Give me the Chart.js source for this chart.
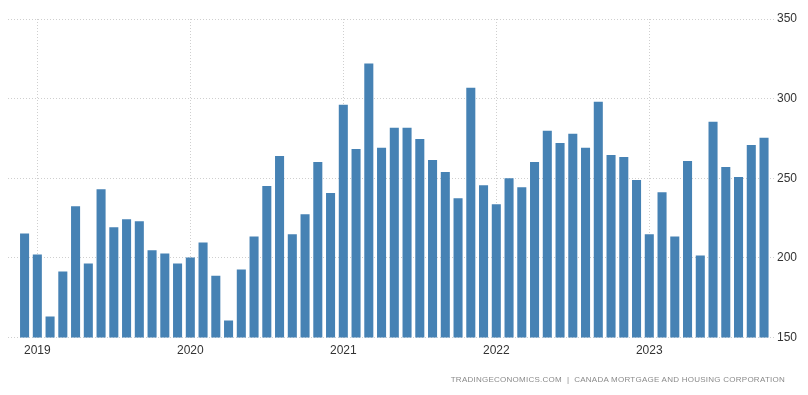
<!DOCTYPE html>
<html>
<head>
<meta charset="utf-8">
<script src="https://cdn.jsdelivr.net/npm/chart.js@4.4.0/dist/chart.umd.min.js"></script>
<style>
    html, body { margin: 0; padding: 0; background: #fff; }
    #wrap { position: relative; width: 808px; height: 395px; }
    #source {
        position: absolute; right: 23px; top: 375px;
        font-family: "Liberation Sans", Arial, sans-serif; font-size: 8px;
        color: #8a8a8a; letter-spacing: 0.25px; white-space: pre;
    }
</style>
</head>
<body>
<div id="wrap">
    <canvas id="startsChart" width="808" height="395"></canvas>
    <div id="source">TRADINGECONOMICS.COM  |  CANADA MORTGAGE AND HOUSING CORPORATION</div>
</div>
<script>
// monthly housing starts, Dec 2018 .. Oct 2023 (thousands, SAAR)
var months = [
    '2018-12',
    '2019-01', '2019-02', '2019-03', '2019-04', '2019-05', '2019-06', '2019-07', '2019-08', '2019-09', '2019-10', '2019-11', '2019-12',
    '2020-01', '2020-02', '2020-03', '2020-04', '2020-05', '2020-06', '2020-07', '2020-08', '2020-09', '2020-10', '2020-11', '2020-12',
    '2021-01', '2021-02', '2021-03', '2021-04', '2021-05', '2021-06', '2021-07', '2021-08', '2021-09', '2021-10', '2021-11', '2021-12',
    '2022-01', '2022-02', '2022-03', '2022-04', '2022-05', '2022-06', '2022-07', '2022-08', '2022-09', '2022-10', '2022-11', '2022-12',
    '2023-01', '2023-02', '2023-03', '2023-04', '2023-05', '2023-06', '2023-07', '2023-08', '2023-09', '2023-10'
];
var starts = [
    215.4,
    202.2, 163.2, 191.5, 232.5, 196.5, 243.2, 219.2, 224.3, 223.0, 204.9, 202.8, 196.5,
    200.3, 209.7, 188.9, 160.7, 192.7, 213.5, 245.1, 264.0, 214.8, 227.4, 260.2, 240.7,
    296.2, 268.4, 322.0, 269.1, 281.7, 281.7, 274.7, 261.5, 253.9, 237.5, 306.9, 245.7,
    233.7, 250.1, 244.4, 260.2, 279.8, 272.2, 277.9, 269.1, 298.1, 264.6, 263.4, 248.9,
    214.8, 241.3, 213.5, 260.9, 201.5, 285.5, 257.1, 250.8, 270.9, 275.4
];
var yearTicks = ['2019', '2020', '2021', '2022', '2023'];
var yTicks = [150, 200, 250, 300, 350];

document.addEventListener('DOMContentLoaded', function () {
    var points = months.map(function (m, i) { return { x: i, y: starts[i] }; });
    // position of each January in the month list
    var yearIdx = yearTicks.map(function (y) { return months.indexOf(y + '-01'); });

    var ctx = document.getElementById('startsChart').getContext('2d');
    var startsChart = new Chart(ctx, {
        type: 'bar',
        data: {
            datasets: [{
                label: 'Housing Starts',
                data: points,
                backgroundColor: '#4682b4',
                borderWidth: 0,
                categoryPercentage: 1,
                barPercentage: 0.71
            }]
        },
        options: {
            responsive: false,
            animation: false,
            layout: { padding: { top: 19, left: 8, right: 0, bottom: 31 } },
            plugins: {
                legend: { display: false },
                tooltip: { enabled: false }
            },
            scales: {
                x: {
                    type: 'linear',
                    offset: false,
                    min: -1.3,
                    max: 58.86,
                    afterBuildTicks: function (scale) {
                        scale.ticks = yearIdx.map(function (v) { return { value: v }; });
                    },
                    ticks: {
                        autoSkip: false,
                        maxRotation: 0,
                        padding: 6,
                        color: '#333',
                        font: { family: 'Liberation Sans', size: 12 },
                        callback: function (value) {
                            var k = yearIdx.indexOf(value);
                            return k >= 0 ? yearTicks[k] : '';
                        }
                    },
                    grid: { color: '#cfcfcf', drawTicks: false, offset: false },
                    border: { display: false, dash: [1, 2] }
                },
                y: {
                    position: 'right',
                    min: yTicks[0],
                    max: yTicks[yTicks.length - 1],
                    afterFit: function (scale) { scale.width = 33; },
                    afterBuildTicks: function (scale) {
                        scale.ticks = yTicks.map(function (v) { return { value: v }; });
                    },
                    ticks: {
                        padding: 2,
                        color: '#333',
                        font: { family: 'Liberation Sans', size: 12 }
                    },
                    grid: { color: '#cfcfcf', drawTicks: false },
                    border: { display: false, dash: [1, 2] }
                }
            }
        }
    });
});
</script>
</body>
</html>
